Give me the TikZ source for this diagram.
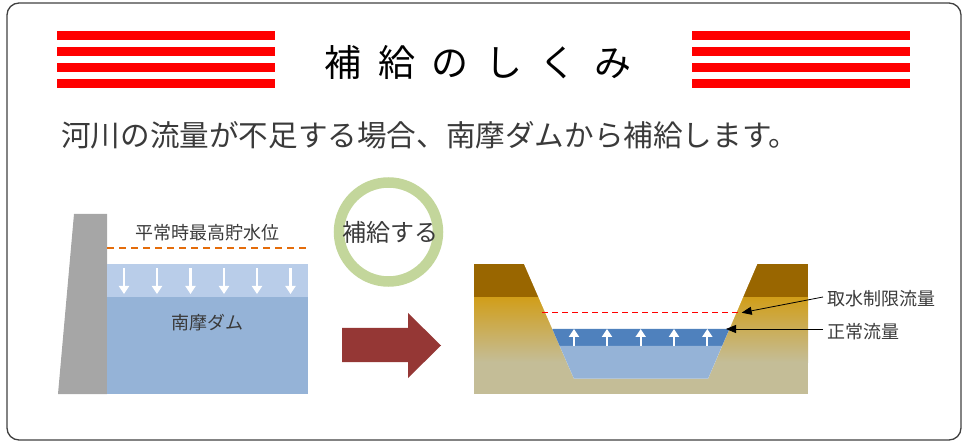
\documentclass[tikz,border=0pt]{standalone}
\usepackage{fontspec}
\setmainfont{Noto Sans CJK JP}
\usetikzlibrary{arrows.meta}
\definecolor{framegray}{HTML}{404040}
\definecolor{textgray}{HTML}{3A3A3A}
\definecolor{barred}{HTML}{FF0000}
\definecolor{damgray}{HTML}{A6A6A6}
\definecolor{waterlight}{HTML}{B9CDE9}
\definecolor{watermid}{HTML}{95B3D7}
\definecolor{waterdark}{HTML}{4F81BD}
\definecolor{levelorange}{HTML}{E46C0A}
\definecolor{ringgreen}{HTML}{C3D69B}
\definecolor{arrowred}{HTML}{953735}
\definecolor{soilbrown}{HTML}{996600}
\definecolor{soilgold}{HTML}{D19E1A}
\definecolor{soiltan}{HTML}{C4BD97}
\tikzset{
  lbl/.style={inner sep=0pt, text=textgray, font=\fontsize{18}{20}\selectfont},
  redbar/.style={fill=barred, draw=none},
  whitearrow/.style={draw=white, line width=2.2pt, -{Triangle[length=8pt,width=10pt]}},
  pointer/.style={draw=black, line width=0.8pt, -{Triangle[length=10pt,width=8pt]}},
}
\begin{document}
\begin{tikzpicture}[x=1pt,y=-1pt]
\useasboundingbox (0,0) rectangle (966,443);
% outer frame
\draw[framegray, line width=1.3pt, rounded corners=12pt] (7,3) rectangle (961,440);

% heading bars
\foreach \yy in {31,47,63,79} {
  \fill[redbar] (57,\yy) rectangle (275,\yy+9);
  \fill[redbar] (692,\yy) rectangle (910,\yy+9);
}
\node[inner sep=0pt, font=\fontsize{37}{40}\selectfont\addfontfeature{LetterSpace=45}] (title) at (478,62) {補給のしくみ};

% lead sentence
\node[anchor=west, inner sep=0pt, text=textgray, font=\fontsize{29.6}{32}\selectfont] (lead) at (61,135) {河川の流量が不足する場合、南摩ダムから補給します。};

% dam body
\fill[damgray] (74,214) -- (107,214) -- (107,394) -- (58,394) -- cycle;
\fill[waterlight] (107,264) rectangle (308,297);
\fill[watermid] (107,297) rectangle (308,394);
\draw[levelorange, line width=1.6pt, dash pattern=on 7pt off 5pt] (107,248) -- (308,248);
\node[lbl] (hwl) at (207,233) {平常時最高貯水位};
\node[lbl] (dam) at (207,323) {南摩ダム};
\foreach \xx in {124,157,190.5,224,257,290.5}
  \draw[whitearrow] (\xx,268) -- (\xx,294);

% supply badge
\draw[ringgreen, line width=10.5pt] (388.5,232) circle (49.5pt);
\node[inner sep=0pt, text=textgray, font=\fontsize{24}{26}\selectfont] (supply) at (390,232) {補給する};

% block arrow
\fill[arrowred] (342,328) -- (408,328) -- (408,313) -- (441,345.5) -- (408,378) -- (408,362) -- (342,362) -- cycle;

% river section: soil layers
\fill[soilbrown] (474,264) rectangle (808,297.5);
\shade[top color=soilgold, bottom color=soiltan] (474,297.3) rectangle (808,362);
\fill[soiltan] (474,361.5) rectangle (808,394);
% channel
\fill[white] (524,264) -- (757.3,264) -- (708,378.7) -- (574,378.7) -- cycle;
\fill[waterdark] (552.3,329) -- (729.4,329) -- (722,346) -- (559.7,346) -- cycle;
\fill[watermid] (559.7,346) -- (722,346) -- (708,378.7) -- (574,378.7) -- cycle;
\draw[barred, line width=1.4pt, dash pattern=on 6pt off 4pt] (542,312.7) -- (742,312.7);
\foreach \xx in {574,607,640.7,674,707.3}
  \draw[whitearrow] (\xx,346) -- (\xx,329);

% river labels
\coordinate (limtip) at (741.7,312.7);
\coordinate (normtip) at (726,329);
\node[lbl, anchor=west] (limit) at (827,299) {取水制限流量};
\node[lbl, anchor=west] (normal) at (827,332) {正常流量};
\draw[pointer] (limit.west) ++(-4,-2) -- (limtip);
\draw[pointer] (normal.west) ++(-4,-3) -- (normtip);
\end{tikzpicture}
\end{document}
